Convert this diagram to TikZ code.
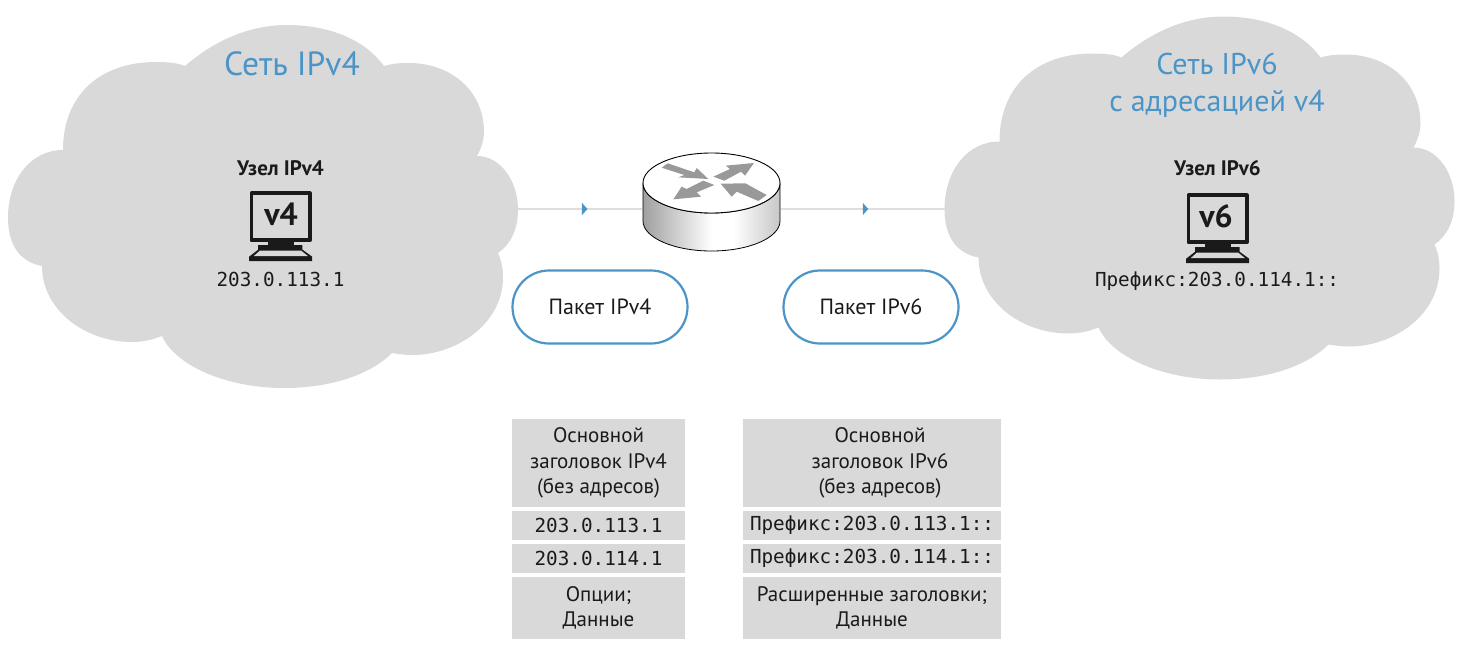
\documentclass[tikz,border=0pt]{standalone}
\usepackage{fontspec}
\setmainfont{PT Sans}
\newfontfamily\monof{DejaVu Sans Mono}
\usetikzlibrary{arrows.meta,decorations.markings}
\definecolor{cloudgray}{HTML}{D9D9D9}
\definecolor{accent}{HTML}{4B94C8}
\definecolor{ink}{HTML}{1A1A1A}
\definecolor{routerarrow}{HTML}{999999}
\pgfdeclarehorizontalshading{routerside}{100bp}{
  color(0bp)=(black!85); color(8bp)=(black!70); color(22bp)=(black!42); color(50bp)=(white);
  color(58bp)=(white); color(75bp)=(black!22); color(100bp)=(black!50)}
\newcommand{\cloudshape}{%
  (185,66) .. controls (215,40) and (250,25) .. (287,25) .. controls (330,25) and (365,40) .. (384,66)
  .. controls (395,63) and (402,63) .. (409,63) .. controls (450,63) and (484,90) .. (484,132)
  .. controls (484,140) and (481,149) .. (477,156)
  .. controls (500,156) and (518,180) .. (518,210) .. controls (518,230) and (510,245) .. (498,253)
  .. controls (502,262) and (503,270) .. (503,277) .. controls (503,325) and (455,355) .. (413,355)
  .. controls (405,355) and (398,354) .. (392,353)
  .. controls (370,375) and (330,388) .. (284,388) .. controls (225,388) and (175,365) .. (162,336)
  .. controls (152,340) and (142,342) .. (132,342) .. controls (85,342) and (42,310) .. (42,266)
  .. controls (20,262) and (8,245) .. (8,218) .. controls (8,180) and (30,150) .. (63,150)
  .. controls (63,95) and (100,62) .. (156,62) .. controls (168,62) and (178,63) .. (185,66) -- cycle}
\tikzset{
  x=1pt,y=-1pt,
  cloudfill/.style={fill=cloudgray},
  nettitle/.style={text=accent,font=\fontsize{33.5}{37}\selectfont,align=center,inner sep=0},
  nettitlesmall/.style={nettitle,font=\fontsize{30}{37}\selectfont},
  hostname/.style={text=ink,font=\fontsize{21}{24}\selectfont\bfseries,inner sep=0},
  addr/.style={text=ink,font=\fontsize{19.3}{23}\selectfont\monof,inner sep=0},
  pill/.style={draw=accent,line width=2.2pt,fill=white,rounded corners=36.5pt,minimum width=175pt,minimum height=73pt,
    text=ink,font=\fontsize{22}{25}\selectfont,inner sep=0},
  cell/.style={fill=cloudgray,text=ink,inner sep=0,align=center,font=\fontsize{21}{25.5}\selectfont},
  monocell/.style={cell,font=\fontsize{19.3}{23}\selectfont\monof},
  link/.style={draw=black!13,line width=1.4pt,postaction={decorate},
    decoration={markings,mark=at position #1 with {\arrow[accent]{Triangle[length=5.5pt,width=12pt]}}}},
  versionlabel/.style={text=ink,font=\fontsize{32}{37}\selectfont\bfseries,inner sep=0},
  pics/hosticon/.style={code={
    \begin{scope}[shift={(-80.67,-75.33)},scale=1/3]
      \draw[ink,line width=3.7pt,line join=round] (155,128) rectangle (330,269);
      \fill[ink] (205,272) rectangle (282,285);
      \fill[ink] (175,283) -- (308,283) -- (308,297) -- (337,318) -- (337,331) -- (148,331) -- (148,318) -- (175,297) -- cycle;
      \fill[cloudgray] (180,300) -- (304,300) -- (324,316) -- (162,316) -- cycle;
    \end{scope}}},
}
\begin{document}
\begin{tikzpicture}
\useasboundingbox (0,0) rectangle (1463,656);
% clouds
\fill[cloudfill] \cloudshape;
\begin{scope}[shift={(936.5,-8.5)}]
  \fill[cloudfill] \cloudshape;
\end{scope}
% connector anchors
\coordinate (leftedge) at (518,209);
\coordinate (rightedge) at (945,209);
\coordinate (routerwest) at (642,209);
\coordinate (routereast) at (781,209);
\draw[link=0.56] (leftedge) -- (routerwest);
\draw[link=0.532] (routereast) -- (rightedge);
% router
\shade[shading=routerside,draw=black,line width=0.8pt]
  (643,183) -- (643,221) arc[start angle=180,end angle=360,x radius=68.5,y radius=-30] -- (780,183)
  arc[start angle=0,end angle=180,x radius=68.5,y radius=30] -- cycle;
\draw[fill=white,line width=0.9pt] (711.5,183) ellipse[x radius=68.5,y radius=30];
\begin{scope}[shift={(655,155)},scale=1/3]
  \fill[routerarrow] (20,38) -- (38,25) -- (118,52) -- (125,39) -- (160,72) -- (70,67) -- (88,60) -- cycle;
  \fill[routerarrow] (175,65) -- (225,42) -- (212,32) -- (297,24) -- (270,62) -- (258,50) -- (208,77) -- cycle;
  \fill[routerarrow] (145,77) -- (178,90) -- (125,112) -- (138,125) -- (55,133) -- (80,95) -- (95,102) -- cycle;
  \fill[routerarrow] (335,120) -- (310,138) -- (245,110) -- (230,125) -- (197,86) -- (272,85) -- (280,90) -- cycle;
\end{scope}
% titles
\node[nettitle] (netfour) at (292,64) {Сеть IPv4};
\node[nettitlesmall] (netsix) at (1217,85) {Сеть IPv6\\с адресацией v4};
% hosts
\node[hostname] (hostfour) at (280.5,168) {Узел IPv4};
\pic at (280.5,226) {hosticon};
\node[versionlabel] (vfour) at (281,214) {v4};
\node[addr] (addrfour) at (280.5,279) {203.0.113.1};
\node[hostname] (hostsix) at (1217.5,168) {Узел IPv6};
\pic at (1217.5,228) {hosticon};
\node[versionlabel] (vsix) at (1216,216) {v6};
\node[addr] (addrsix) at (1217,281) {Префикс:203.0.114.1::};
% packets
\node[pill] (pktfour) at (600,307) {Пакет IPv4};
\node[pill] (pktsix) at (871,307) {Пакет IPv6};
% left table
\node[cell,minimum width=173pt,minimum height=88pt] (lhead) at (598.5,463) {Основной\\заголовок IPv4\\(без адресов)};
\node[monocell,minimum width=173pt,minimum height=29pt] (lsrc) at (598.5,525.5) {203.0.113.1};
\node[monocell,minimum width=173pt,minimum height=29pt] (ldst) at (598.5,558.5) {203.0.114.1};
\node[cell,minimum width=173pt,minimum height=62pt] (lopt) at (598.5,608) {Опции;\\Данные};
% right table
\node[cell,minimum width=258pt,minimum height=88pt] (rhead) at (872,463) {\hspace*{16pt}Основной\\\hspace*{16pt}заголовок IPv6\\\hspace*{16pt}(без адресов)};
\node[monocell,minimum width=258pt,minimum height=29pt] (rsrc) at (872,525.5) {Префикс:203.0.113.1::};
\node[monocell,minimum width=258pt,minimum height=29pt] (rdst) at (872,558.5) {Префикс:203.0.114.1::};
\node[cell,minimum width=258pt,minimum height=62pt] (ropt) at (872,608) {Расширенные заголовки;\\Данные};
\end{tikzpicture}
\end{document}
